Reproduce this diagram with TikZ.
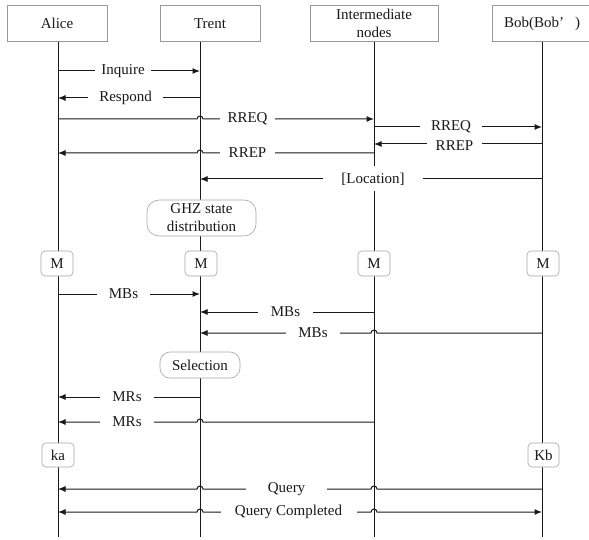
\documentclass[tikz,border=0pt]{standalone}
\usepackage{fontspec}
\setmainfont{Liberation Serif}
\usetikzlibrary{arrows.meta}
\begin{document}
\begin{tikzpicture}[x=1pt,y=-1pt,
  every node/.style={font=\fontsize{15}{18}\selectfont, text=black!90},
  head/.style={draw=black!40, fill=white, line width=0.6pt, minimum height=36pt, inner sep=0pt, align=center},
  life/.style={draw=black!90, line width=1pt},
  msg/.style={draw=black!90, line width=1pt, -{Latex[length=7.5pt,width=6pt]}},
  dmsg/.style={draw=black!90, line width=1pt, {Latex[length=7.5pt,width=6pt]}-{Latex[length=7.5pt,width=6pt]}},
  lbl/.style={fill=white, inner sep=0pt, minimum height=16pt},
  act/.style={draw=black!35, fill=white, line width=0.6pt, rounded corners=4pt, inner sep=0pt, minimum width=32pt, minimum height=25pt},
  proc/.style={draw=black!35, fill=white, line width=0.6pt, rounded corners=10pt, inner sep=0pt, align=center}
]
\useasboundingbox (0,0) rectangle (589,540);

% lifeline x positions
\coordinate (xA) at (58,0);
\coordinate (xT) at (200,0);
\coordinate (xI) at (374,0);
\coordinate (xB) at (542,0);
\coordinate (ybot) at (0,537);

% heads
\node[head, minimum width=100pt] (A) at (57,23.5) {Alice};
\node[head, minimum width=100pt] (T) at (210,23.5) {Trent};
\node[head, minimum width=128pt] (I) at (374,23.5) {Intermediate\\nodes};
\node[head, minimum width=100pt] (B) at (542,23.5) {Bob(Bob’\hspace{11pt})};

% lifelines
\draw[life] (xA|-A.south) -- (xA|-ybot);
\draw[life] (xT|-T.south) -- (xT|-ybot);
\draw[life] (xI|-I.south) -- (xI|-ybot);
\draw[life] (xB|-B.south) -- (xB|-ybot);

% message end points
\path (58,71) coordinate (inqA) (200,71) coordinate (inqT)
      (200,98) coordinate (resT) (58,98) coordinate (resA)
      (58,119) coordinate (rq1A) (374,119) coordinate (rq1I)
      (374,127) coordinate (rq2I) (542,127) coordinate (rq2B)
      (542,144) coordinate (rp2B) (374,144) coordinate (rp2I)
      (374,153) coordinate (rp1I) (58,153) coordinate (rp1A)
      (542,179) coordinate (locB) (200,179) coordinate (locT)
      (58,294) coordinate (mb1A) (200,294) coordinate (mb1T)
      (374,312) coordinate (mb2I) (200,312) coordinate (mb2T)
      (542,333) coordinate (mb3B) (200,333) coordinate (mb3T)
      (200,397) coordinate (mr1T) (58,397) coordinate (mr1A)
      (374,422) coordinate (mr2I) (58,422) coordinate (mr2A)
      (542,489) coordinate (qB) (58,489) coordinate (qA)
      (58,512) coordinate (qcA) (542,512) coordinate (qcB);

% messages
\draw[msg] (inqA) -- (inqT);
\draw[msg] (resT) -- (resA);
\draw[msg] (rq1A) -- (197,119) arc[start angle=180,end angle=0,radius=3pt] -- (rq1I);
\draw[msg] (rq2I) -- (rq2B);
\draw[msg] (rp2B) -- (rp2I);
\draw[msg] (rp1I) -- (203,153) arc[start angle=0,end angle=180,radius=3pt] -- (rp1A);
\draw[msg] (locB) -- (locT);
\draw[msg] (mb1A) -- (mb1T);
\draw[msg] (mb2I) -- (mb2T);
\draw[msg] (mb3B) -- (377,333) arc[start angle=0,end angle=180,radius=3pt] -- (mb3T);
\draw[msg] (mr1T) -- (mr1A);
\draw[msg] (mr2I) -- (203,422) arc[start angle=0,end angle=180,radius=3pt] -- (mr2A);
\draw[msg] (qB) -- (377,489) arc[start angle=0,end angle=180,radius=3pt] -- (203,489) arc[start angle=0,end angle=180,radius=3pt] -- (qA);
\draw[dmsg] (qcA) -- (197,512) arc[start angle=180,end angle=0,radius=3pt] -- (371,512) arc[start angle=180,end angle=0,radius=3pt] -- (qcB);

% labels
\node[lbl, minimum width=56pt] (Linq) at (123,71) {Inquire};
\node[lbl, minimum width=75pt] (Lres) at (125.5,98) {Respond};
\node[lbl, minimum width=55pt] (Lrq1) at (247.5,119) {RREQ};
\node[lbl, minimum width=62pt] (Lrq2) at (451,127) {RREQ};
\node[lbl, minimum width=55pt] (Lrp2) at (454.5,146) {RREP};
\node[lbl, minimum width=55pt] (Lrp1) at (247.5,153) {RREP};
\node[lbl, minimum width=100pt, minimum height=25pt] (Lloc) at (373,179) {[Location]};
\node[lbl, minimum width=53pt] (Lmb1) at (123.5,294) {MBs};
\node[lbl, minimum width=55pt] (Lmb2) at (285.5,312) {MBs};
\node[lbl, minimum width=54pt] (Lmb3) at (313,333) {MBs};
\node[lbl, minimum width=54pt] (Lmr1) at (127,397) {MRs};
\node[lbl, minimum width=54pt] (Lmr2) at (127,422) {MRs};
\node[lbl, minimum width=81pt] (Lq) at (286.5,489) {Query};
\node[lbl, minimum width=136pt] (Lqc) at (288.5,512) {Query Completed};

% activity boxes
\node[proc, minimum width=109pt, minimum height=36pt, rounded corners=12pt] (ghz) at (201.5,218) {GHZ state\\distribution};
\node[act] (mA) at (57,263.5) {M};
\node[act] (mT) at (201,263.5) {M};
\node[act] (mI) at (374,263.5) {M};
\node[act] (mB) at (543,263.5) {M};
\node[proc, minimum width=80pt, minimum height=26pt] (sel) at (200,365) {Selection};
\node[act, minimum height=24pt] (ka) at (58,455) {ka};
\node[act, minimum width=31pt, minimum height=24pt] (kb) at (543.5,455) {Kb};
\end{tikzpicture}
\end{document}
